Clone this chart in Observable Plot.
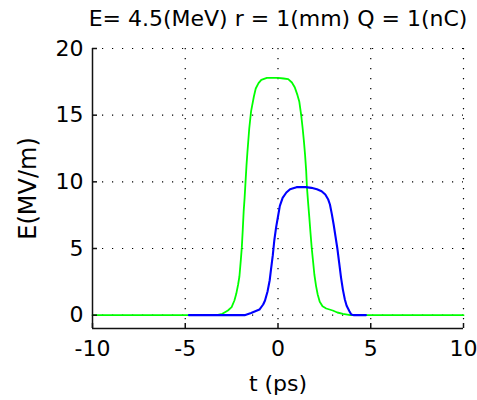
<!DOCTYPE html>
<html><head><meta charset="utf-8">
<script src="https://cdn.jsdelivr.net/npm/d3@7"></script>
<script src="https://cdn.jsdelivr.net/npm/@observablehq/plot@0.6"></script>
<style>html,body{margin:0;padding:0;background:#fff;}</style>
</head><body><div id="chart"></div>
<script>
const titleText = "E= 4.5(MeV) r = 1(mm) Q = 1(nC)";
const xLabel = "t (ps)";
const yLabel = "E(MV/m)";
const xTicks = [-10, -5, 0, 5, 10];
const yTicks = [0, 5, 10, 15, 20];
const xDomain = [-10, 10];
const yDomain = [-1, 20];

const greenT = [-10, -3.3, -3.0, -2.7, -2.5, -2.35, -2.25, -2.15, -2.08, -2.0, -1.95, -1.9, -1.85, -1.8, -1.75, -1.7, -1.65, -1.55, -1.45, -1.3, -1.2, -1.05, -0.9, -0.6, 0, 0.3, 0.55, 0.75, 0.9, 1.05, 1.15, 1.25, 1.33, 1.4, 1.46, 1.52, 1.56, 1.62, 1.69, 1.75, 1.82, 1.9, 1.96, 2.05, 2.14, 2.25, 2.4, 2.6, 2.95, 3.2, 3.5, 3.9, 10];
const greenE = [0, 0, 0.1, 0.35, 0.6, 1.1, 1.6, 2.3, 2.9, 4.2, 5.1, 6.4, 7.8, 8.8, 10.0, 11.2, 12.2, 14.0, 15.3, 16.4, 17.0, 17.4, 17.65, 17.8, 17.8, 17.75, 17.7, 17.45, 17.1, 16.5, 16.0, 15.0, 14.0, 13.0, 12.0, 10.8, 9.6, 8.5, 7.3, 6.2, 5.0, 3.9, 3.05, 2.2, 1.55, 1.0, 0.67, 0.5, 0.35, 0.2, 0.1, 0, 0];

const blueT = [-4.8, -1.8, -1.45, -1.0, -0.8, -0.7, -0.56, -0.45, -0.38, -0.28, -0.2, -0.1, 0.0, 0.1, 0.25, 0.45, 0.65, 1.0, 1.5, 1.8, 2.1, 2.35, 2.55, 2.7, 2.8, 2.9, 3.0, 3.1, 3.2, 3.3, 3.4, 3.5, 3.6, 3.7, 3.85, 3.95, 4.1, 4.74];
const blueE = [0, 0, 0.17, 0.42, 0.8, 1.1, 1.8, 2.6, 3.4, 4.5, 5.6, 6.6, 7.4, 8.2, 8.8, 9.2, 9.45, 9.6, 9.6, 9.55, 9.45, 9.3, 9.05, 8.7, 8.3, 7.6, 6.8, 5.9, 5.0, 3.9, 2.8, 1.9, 1.2, 0.7, 0.3, 0.05, 0, 0];

const green = greenT.map((t, i) => ({t, E: greenE[i]}));
const blue = blueT.map((t, i) => ({t, E: blueE[i]}));

const W = 477, H = 400, mL = 92, mR = 14, mT = 48, mB = 72;
const fw = W - mL - mR, fh = H - mT - mB;
const font = "'DejaVu Sans', sans-serif";
const gridStyle = {stroke: "#000", strokeWidth: 1.2, strokeDasharray: "1.2,8.8"};
const axisStroke = {stroke: "#111", strokeWidth: 1.5};
const fmt = d => String(d);

const chart = Plot.plot({
  width: W, height: H,
  marginLeft: mL, marginRight: mR, marginTop: mT, marginBottom: mB,
  style: {fontFamily: font, fontSize: "22px", background: "#fff", color: "#000", overflow: "visible"},
  x: {domain: xDomain},
  y: {domain: yDomain},
  marks: [
    Plot.ruleX(xTicks.slice(1), gridStyle),
    Plot.ruleY(yTicks, gridStyle),
    Plot.line(green, {x: "t", y: "E", stroke: "#00ff00", strokeWidth: 1.8}),
    Plot.line(blue, {x: "t", y: "E", stroke: "#0000ff", strokeWidth: 2.1}),
    Plot.ruleX([xDomain[0]], axisStroke),
    Plot.ruleY([yDomain[0]], axisStroke),
    Plot.tickX(xTicks, {x: d => d, insetTop: fh - 5, ...axisStroke}),
    Plot.tickY(yTicks, {y: d => d, insetRight: fw - 5, ...axisStroke}),
    Plot.axisX(xTicks, {tickSize: 0, tickPadding: 12, fontSize: 22, label: null, fill: "#000", tickFormat: fmt}),
    Plot.axisY(yTicks, {tickSize: 0, tickPadding: 9, fontSize: 22, label: null, fill: "#000", tickFormat: fmt}),
    Plot.text([titleText], {frameAnchor: "top", dy: -23, lineAnchor: "bottom", fontSize: 22, fill: "#000"}),
    Plot.text([xLabel], {frameAnchor: "bottom", dy: 62, lineAnchor: "bottom", fontSize: 22, fill: "#000"}),
    Plot.text([yLabel], {frameAnchor: "left", dx: -57, rotate: -90, textAnchor: "middle", lineAnchor: "bottom", fontSize: 24, fill: "#000"})
  ]
});
document.getElementById("chart").appendChild(chart);
</script>
</body></html>
